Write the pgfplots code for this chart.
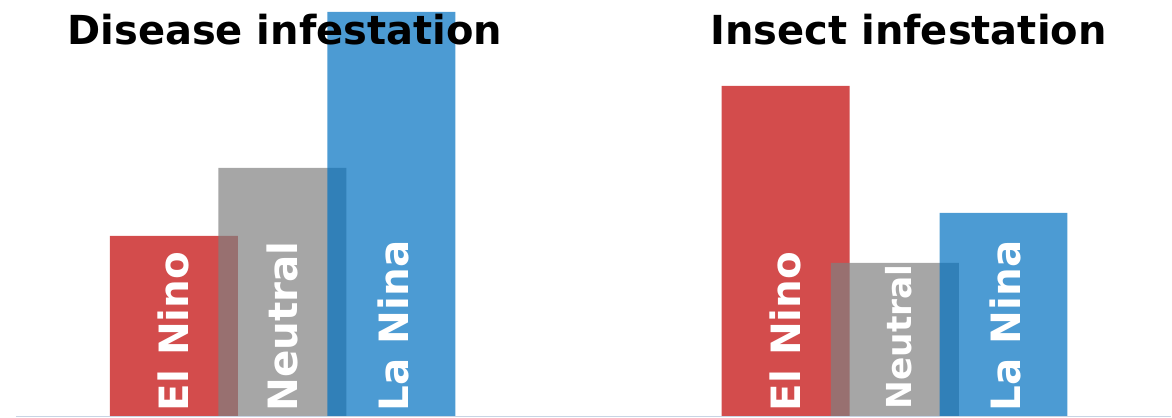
\documentclass[border=0pt]{standalone}
\usepackage{pgfplots}
\pgfplotsset{compat=1.18}
\usepackage{fontspec}
\setmainfont{DejaVu Sans}
\definecolor{cred}{HTML}{C00000}
\definecolor{cgray}{HTML}{808080}
\definecolor{cblue}{HTML}{0070C0}
\definecolor{cbase}{RGB}{200,212,228}
\begin{document}
\begin{tikzpicture}
\begin{axis}[
  scale only axis,
  width=586pt, height=209pt,
  xmin=0, xmax=1172, ymin=-2, ymax=416,
  axis lines=none, ticks=none,
  clip=false,
]
\path (rel axis cs:0,0) rectangle (rel axis cs:1,1);
% El Nino
\addplot[ybar, bar width=128, bar shift=0pt, fill=cred, fill opacity=0.7, draw=none]
  coordinates {(174,180) (786,330)};
% Neutral
\addplot[ybar, bar width=128, bar shift=0pt, fill=cgray, fill opacity=0.7, draw=none]
  coordinates {(282.5,248) (895.3,153)};
% La Nina
\addplot[ybar, bar width=128, bar shift=0pt, fill=cblue, fill opacity=0.7, draw=none]
  coordinates {(391.5,404) (1004,203)};
\draw[cbase, line width=0.6pt] (axis cs:16,-1) -- (axis cs:1172,-1);
\begin{scope}[every node/.style={text=white, font=\fontsize{20.2}{24}\selectfont\bfseries, rotate=90, anchor=west, inner sep=0pt}]
\node at (axis cs:174,4) {El Nino};
\node at (axis cs:283,4) {Neutral};
\node at (axis cs:394,4) {La Nina};
\node at (axis cs:786,4) {El Nino};
\node[font=\fontsize{17.2}{21}\selectfont\bfseries] at (axis cs:899,6) {Neutral};
\node at (axis cs:1006,4) {La Nina};
\end{scope}
\node[anchor=base, inner sep=0pt, font=\fontsize{20}{24}\selectfont\bfseries] at (axis cs:285,371) {Disease infestation};
\node[anchor=base, inner sep=0pt, font=\fontsize{20}{24}\selectfont\bfseries] at (axis cs:909,371) {Insect infestation};
\end{axis}
\end{tikzpicture}
\end{document}
